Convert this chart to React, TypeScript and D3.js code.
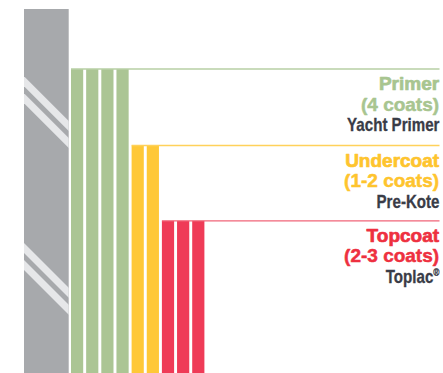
import React from "react";
import * as d3 from "d3";

const W = 443;
const H = 373;

// Data
const layers = ["Primer", "Undercoat", "Topcoat"];
const coatLabels = ["(4 coats)", "(1-2 coats)", "(2-3 coats)"];
const products = ["Yacht Primer", "Pre-Kote", "Toplac"];
const productMarks = ["", "", "®"];
const barCounts = [4, 2, 3];
const layerLevels = [83.5, 62.5, 41.8]; // height of each coat stack (substrate = 100)
const substrateLevel = 100;
const stripeLevels = [81.5, 35.7]; // where diagonal stripe pairs start on substrate's left edge

// Styles
const barColors = ["#abc594", "#ffc837", "#ef3b57"];
const lineColors = ["#b7cfa4", "#ffd15a", "#f06578"];
const titleColors = ["#a8c590", "#fec42e", "#ee3040"];
const darkText = "#393c47";
const gray = "#a7a9ac";
const stripeColor = "#e6e7e9";
const sans = "'Liberation Sans', Arimo, Arial, Helvetica, sans-serif";

export default function App() {
  const top = 9;
  const y = d3.scaleLinear().domain([0, substrateLevel]).range([H, top]);

  const subX0 = 24;
  const subX1 = 68.7;

  const allBars: { layer: number; idx: number }[] = [];
  barCounts.forEach((c, li) => {
    for (let i = 0; i < c; i++) allBars.push({ layer: li, idx: allBars.length });
  });
  const x = d3
    .scaleBand<number>()
    .domain(allBars.map((b) => b.idx))
    .range([71, 204.4])
    .paddingInner(0.195)
    .paddingOuter(0);

  const firstIdx = barCounts.map((_, li) => allBars.find((b) => b.layer === li)!.idx);
  const textRight = 439.5;
  const stripeT = 10;
  const stripeGap = 7;
  const dx = subX1 - subX0;
  const narrow = 0.84;

  return (
    <svg
      width={W}
      height={H}
      style={{ position: "absolute", left: 0, top: 0, background: "#fff" }}
    >
      <defs>
        <clipPath id="subClip">
          <rect x={subX0} y={y(substrateLevel)} width={dx} height={H - y(substrateLevel)} />
        </clipPath>
      </defs>
      {/* substrate */}
      <rect x={subX0} y={y(substrateLevel)} width={dx} height={H - y(substrateLevel)} fill={gray} />
      <g clipPath="url(#subClip)">
        {stripeLevels.map((lv, si) =>
          [0, 1].map((k) => {
            const y0 = y(lv) + k * (stripeT + stripeGap);
            const pts = [
              [subX0 - 2, y0 - 2],
              [subX1 + 2, y0 + dx + 2],
              [subX1 + 2, y0 + dx + 2 + stripeT],
              [subX0 - 2, y0 - 2 + stripeT],
            ];
            return (
              <polygon
                key={`s${si}-${k}`}
                points={pts.map((p) => p.join(",")).join(" ")}
                fill={stripeColor}
              />
            );
          })
        )}
      </g>
      {/* bars */}
      {allBars.map((b) => (
        <rect
          key={b.idx}
          x={x(b.idx)}
          y={y(layerLevels[b.layer])}
          width={x.bandwidth()}
          height={H - y(layerLevels[b.layer])}
          fill={barColors[b.layer]}
        />
      ))}
      {/* leader lines and labels */}
      {layers.map((name, li) => {
        const ly = y(layerLevels[li]);
        return (
          <g key={name}>
            <line
              x1={x(firstIdx[li])}
              x2={textRight}
              y1={ly}
              y2={ly}
              stroke={lineColors[li]}
              strokeWidth={1.4}
            />
            <text
              x={textRight - 0.4}
              y={ly + 21}
              textAnchor="end"
              fontFamily={sans}
              fontWeight="bold"
              fontSize={19}
              fill={titleColors[li]}
              stroke={titleColors[li]}
              strokeWidth={0.7}
              strokeLinejoin="round"
            >
              {name}
            </text>
            <text
              x={textRight - 0.4}
              y={ly + 41.5}
              textAnchor="end"
              fontFamily={sans}
              fontWeight="bold"
              fontSize={19}
              fill={titleColors[li]}
              stroke={titleColors[li]}
              strokeWidth={0.5}
              strokeLinejoin="round"
            >
              {coatLabels[li]}
            </text>
            <g transform={`translate(${textRight},${ly + 62}) scale(${narrow},1)`}>
              <text
                x={0}
                y={0}
                textAnchor="end"
                fontFamily={sans}
                fontWeight="bold"
                fontSize={18}
                fill={darkText}
                stroke={darkText}
                strokeWidth={0.3}
              >
                {products[li]}
                {productMarks[li] && (
                  <tspan fontSize={10} dy={-7}>
                    {productMarks[li]}
                  </tspan>
                )}
              </text>
            </g>
          </g>
        );
      })}
    </svg>
  );
}
